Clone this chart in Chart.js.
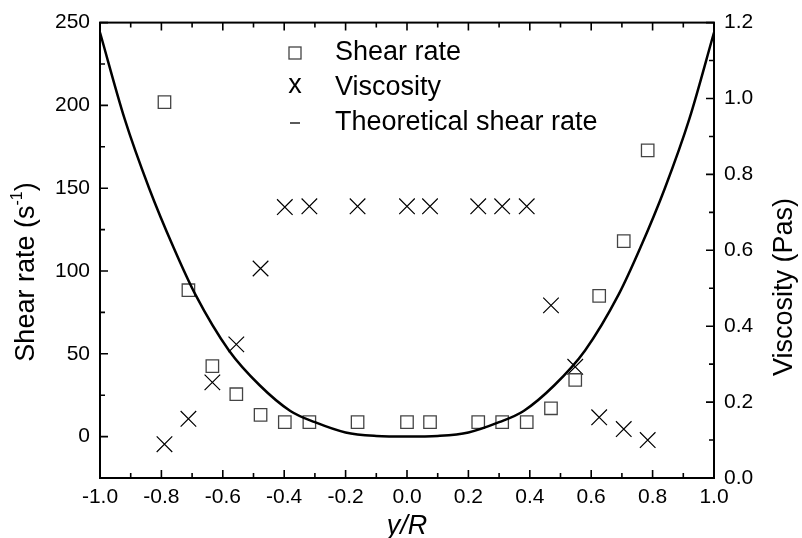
<!DOCTYPE html>
<html>
<head>
<meta charset="utf-8">
<script src="https://cdn.jsdelivr.net/npm/chart.js@4/dist/chart.umd.min.js"></script>
<style>
html,body{margin:0;padding:0;background:#fff;}
</style>
</head>
<body>
<canvas id="chart" width="802" height="538"></canvas>
<script>
// measured points (y/R positions shared by both series)
const posX = [-0.79,-0.712,-0.634,-0.556,-0.477,-0.398,-0.318,-0.161,0.0,0.075,0.232,0.31,0.39,0.469,0.548,0.626,0.706,0.784];
const shearRate = [202,88.4,42.6,25.6,13.1,8.7,8.7,8.7,8.7,8.7,8.7,8.7,8.7,17.1,34.2,85,118,172.8];
const viscosity = [0.089,0.156,0.252,0.352,0.552,0.714,0.716,0.716,0.716,0.716,0.716,0.716,0.716,0.455,0.293,0.160,0.129,0.100];

// theoretical curve
const theoryX = [-1.0,-0.92,-0.84,-0.76,-0.69,-0.58,-0.48,-0.38,-0.3,-0.2,-0.1,0,0.1,0.2,0.3,0.38,0.48,0.58,0.69,0.76,0.84,0.92,1.0];
const theoryRate = [244,192,150,114,86,52,31,15.5,8.7,2.5,0.4,0,0.4,2.5,8.7,15.5,31,52,86,114,150,192,244];

// tick labels
const xTicks = [-1.0,-0.8,-0.6,-0.4,-0.2,0.0,0.2,0.4,0.6,0.8,1.0];
const leftTicks = [0,50,100,150,200,250];
const rightTicks = [0.0,0.2,0.4,0.6,0.8,1.0,1.2];

const FONT = '"Liberation Sans", Arial, sans-serif';
const BIG = '27px ' + FONT;

function pts(xs, ys){
  return xs.map((x,i) => ({x:x, y:ys[i]}));
}

function mids(arr){
  let out = [];
  for(let i=0;i<arr.length-1;i++) out.push((arr[i]+arr[i+1])/2);
  return out;
}

const framePlugin = {
  id:'frame',
  afterDraw(chart){
    const ctx = chart.ctx;
    const a = chart.chartArea;
    const sx = chart.scales.x, sl = chart.scales.y, sr = chart.scales.y1;
    ctx.save();
    ctx.strokeStyle = '#000';
    ctx.lineWidth = 2;
    ctx.strokeRect(a.left, a.top, a.right-a.left, a.bottom-a.top);

    ctx.lineWidth = 1.6;
    ctx.beginPath();
    // bottom + top ticks
    xTicks.forEach(v => {
      let p = sx.getPixelForValue(v);
      ctx.moveTo(p, a.bottom); ctx.lineTo(p, a.bottom-8);
      ctx.moveTo(p, a.top); ctx.lineTo(p, a.top+8);
    });
    mids(xTicks).forEach(v => {
      let p = sx.getPixelForValue(v);
      ctx.moveTo(p, a.bottom); ctx.lineTo(p, a.bottom-5);
      ctx.moveTo(p, a.top); ctx.lineTo(p, a.top+5);
    });
    // left ticks
    leftTicks.forEach(v => {
      let p = sl.getPixelForValue(v);
      ctx.moveTo(a.left, p); ctx.lineTo(a.left+8, p);
    });
    mids(leftTicks).forEach(v => {
      let p = sl.getPixelForValue(v);
      ctx.moveTo(a.left, p); ctx.lineTo(a.left+5, p);
    });
    // right ticks
    rightTicks.forEach(v => {
      let p = sr.getPixelForValue(v);
      ctx.moveTo(a.right, p); ctx.lineTo(a.right-8, p);
    });
    mids(rightTicks).forEach(v => {
      let p = sr.getPixelForValue(v);
      ctx.moveTo(a.right, p); ctx.lineTo(a.right-5, p);
    });
    ctx.stroke();

    // y axis titles
    ctx.fillStyle = '#000';
    ctx.textBaseline = 'middle';
    // left: Shear rate (s^-1)
    ctx.save();
    ctx.translate(27, 272);
    ctx.rotate(-Math.PI/2);
    let t1 = 'Shear rate (s';
    ctx.font = BIG;
    let w1 = ctx.measureText(t1).width;
    ctx.font = '16px ' + FONT;
    let w2 = ctx.measureText('-1').width;
    ctx.font = BIG;
    let w3 = ctx.measureText(')').width;
    let x0 = -(w1+w2+w3)/2;
    ctx.textAlign = 'left';
    ctx.fillText(t1, x0, 0);
    ctx.font = '16px ' + FONT;
    ctx.fillText('-1', x0+w1, -9);
    ctx.font = BIG;
    ctx.fillText(')', x0+w1+w2, 0);
    ctx.restore();
    // right: Viscosity (Pas)
    ctx.save();
    ctx.translate(785, 287);
    ctx.rotate(-Math.PI/2);
    ctx.textAlign = 'center';
    ctx.font = BIG;
    ctx.fillText('Viscosity (Pas)', 0, 0);
    ctx.restore();

    // legend
    ctx.textAlign = 'left';
    ctx.font = BIG;
    ctx.strokeStyle = '#444';
    ctx.lineWidth = 1.3;
    ctx.strokeRect(289, 47, 12, 12);
    ctx.fillText('Shear rate', 335, 53);
    ctx.textAlign = 'center';
    ctx.fillText('x', 295, 86);
    ctx.textAlign = 'left';
    ctx.fillText('Viscosity', 335, 88);
    ctx.strokeStyle = '#000';
    ctx.beginPath();
    ctx.moveTo(290, 123); ctx.lineTo(300, 123);
    ctx.stroke();
    ctx.fillText('Theoretical shear rate', 335, 123);
    ctx.restore();
  }
};

const ctx = document.getElementById('chart').getContext('2d');
const chart = new Chart(ctx, {
  type:'scatter',
  data:{
    datasets:[
      {
        label:'Theoretical shear rate',
        type:'line',
        data:pts(theoryX, theoryRate),
        yAxisID:'y',
        borderColor:'#000',
        borderWidth:2.5,
        pointRadius:0,
        fill:false,
        cubicInterpolationMode:'monotone'
      },
      {
        label:'Shear rate',
        data:pts(posX, shearRate),
        yAxisID:'y',
        pointStyle:'rect',
        pointRadius:8.8,
        backgroundColor:'rgba(0,0,0,0)',
        borderColor:'#444',
        borderWidth:1.3
      },
      {
        label:'Viscosity',
        data:pts(posX, viscosity),
        yAxisID:'y1',
        pointStyle:'crossRot',
        pointRadius:11,
        borderColor:'#000',
        borderWidth:1.2
      }
    ]
  },
  options:{
    responsive:false,
    animation:false,
    layout:{padding:{top:22,left:0,right:0,bottom:0}},
    plugins:{legend:{display:false}, tooltip:{enabled:false}},
    scales:{
      x:{
        type:'linear', min:-1, max:1,
        afterBuildTicks: s => { s.ticks = xTicks.map(v => ({value:v})); },
        afterFit: s => { s.height = 60; },
        ticks:{callback: v => v.toFixed(1), color:'#000', font:{family:FONT,size:21}, padding:7, maxRotation:0, autoSkip:false},
        grid:{display:false, drawTicks:false},
        border:{display:false},
        title:{display:true, text:'y/R', color:'#000', font:{family:FONT,size:27,style:'italic',lineHeight:0.85}, padding:{top:0,bottom:0}}
      },
      y:{
        position:'left', min:-25, max:250,
        afterBuildTicks: s => { s.ticks = leftTicks.map(v => ({value:v})); },
        afterFit: s => { s.width = 100; },
        ticks:{color:'#000', font:{family:FONT,size:21}, padding:10},
        grid:{display:false, drawTicks:false},
        border:{display:false}
      },
      y1:{
        position:'right', min:0, max:1.2,
        afterBuildTicks: s => { s.ticks = rightTicks.map(v => ({value:v})); },
        afterFit: s => { s.width = 88; },
        ticks:{callback: v => v.toFixed(1), color:'#000', font:{family:FONT,size:21}, padding:10},
        grid:{display:false, drawTicks:false},
        border:{display:false}
      }
    }
  },
  plugins:[framePlugin]
});
</script>
</body>
</html>
